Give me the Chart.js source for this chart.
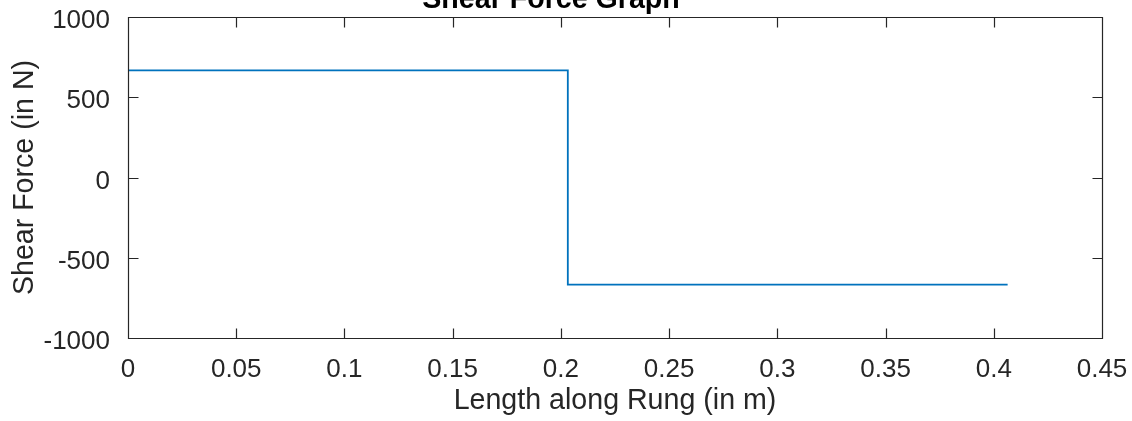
<!DOCTYPE html>
<html>
<head>
<meta charset="utf-8">
<script src="https://cdn.jsdelivr.net/npm/chart.js@4/dist/chart.umd.min.js"></script>
<style>
  html, body { margin: 0; padding: 0; background: #ffffff; }
  canvas { display: block; }
</style>
</head>
<body>
<canvas id="c" width="1132" height="421"></canvas>
<script>
// ---- data ----
const positions = [0, 0.2032, 0.2032, 0.4064];      // Length along rung (m)
const shearForce = [667, 667, -667, -667];          // Shear force (N)
const xTicks = [0, 0.05, 0.1, 0.15, 0.2, 0.25, 0.3, 0.35, 0.4, 0.45];
const yTicks = [-1000, -500, 0, 500, 1000];

const titleText = 'Shear Force Graph';
const xLabel = 'Length along Rung (in m)';
const yLabel = 'Shear Force (in N)';

const FONT = '"Liberation Sans", Arial, Helvetica, sans-serif';
const AXIS_COLOR = '#262626';
const TICK_SIZE = 26;
const LABEL_SIZE = 28.6;

const boxPlugin = {
  id: 'matlabBox',
  afterDraw(chart) {
    const { ctx, chartArea: a, scales } = chart;
    const L = Math.round(a.left) + 0.5, R = Math.round(a.right) + 0.5;
    const T = Math.round(a.top) + 0.5, B = Math.round(a.bottom) + 0.5;
    const len = 10;
    ctx.save();
    ctx.strokeStyle = AXIS_COLOR;
    ctx.lineWidth = 1.2;
    ctx.beginPath();
    ctx.rect(L, T, R - L, B - T);
    xTicks.forEach(v => {
      const px = Math.round(scales.x.getPixelForValue(v)) + 0.5;
      ctx.moveTo(px, B); ctx.lineTo(px, B - len);
      ctx.moveTo(px, T); ctx.lineTo(px, T + len);
    });
    yTicks.forEach(v => {
      const py = Math.round(scales.y.getPixelForValue(v)) + 0.5;
      ctx.moveTo(L, py); ctx.lineTo(L + len, py);
      ctx.moveTo(R, py); ctx.lineTo(R - len, py);
    });
    ctx.stroke();
    ctx.restore();
  }
};

new Chart(document.getElementById('c'), {
  type: 'line',
  data: {
    datasets: [{
      data: positions.map((x, i) => ({ x: x, y: shearForce[i] })),
      borderColor: '#0072BD',
      borderWidth: 1.8,
      pointRadius: 0,
      tension: 0,
      fill: false
    }]
  },
  options: {
    responsive: false,
    animation: false,
    devicePixelRatio: 1,
    layout: { padding: { left: 0, right: 30, top: 0, bottom: 0 } },
    plugins: {
      legend: { display: false },
      tooltip: { enabled: false },
      title: {
        display: true,
        text: titleText,
        color: '#000000',
        font: { family: FONT, size: LABEL_SIZE, weight: 'bold' },
        padding: { top: -17, bottom: -0.3 }
      }
    },
    scales: {
      x: {
        type: 'linear',
        min: 0, max: 0.45,
        afterFit(scale) {
          scale.height = 83;
          scale.paddingLeft = 0; scale.paddingRight = 0;
        },
        afterBuildTicks(scale) { scale.ticks = xTicks.map(v => ({ value: v })); },
        grid: { display: false },
        border: { display: false },
        ticks: {
          color: AXIS_COLOR,
          font: { family: FONT, size: TICK_SIZE },
          padding: 8.5,
          maxRotation: 0,
          autoSkip: false,
          callback: v => String(+v.toFixed(2))
        },
        title: {
          display: true,
          text: xLabel,
          color: AXIS_COLOR,
          font: { family: FONT, size: LABEL_SIZE },
          padding: { top: 0, bottom: 2.5 }
        }
      },
      y: {
        type: 'linear',
        min: -1000, max: 1000,
        afterFit(scale) {
          scale.width = 128;
          scale.paddingTop = 0; scale.paddingBottom = 0;
        },
        afterBuildTicks(scale) { scale.ticks = yTicks.map(v => ({ value: v })); },
        grid: { display: false },
        border: { display: false },
        ticks: {
          color: AXIS_COLOR,
          font: { family: FONT, size: TICK_SIZE },
          padding: 10,
          labelOffset: 4,
          autoSkip: false,
          callback: v => String(v)
        },
        title: {
          display: true,
          text: yLabel,
          color: AXIS_COLOR,
          font: { family: FONT, size: LABEL_SIZE },
          padding: { top: 7.8, bottom: 0 }
        }
      }
    }
  },
  plugins: [boxPlugin]
});
</script>
</body>
</html>
